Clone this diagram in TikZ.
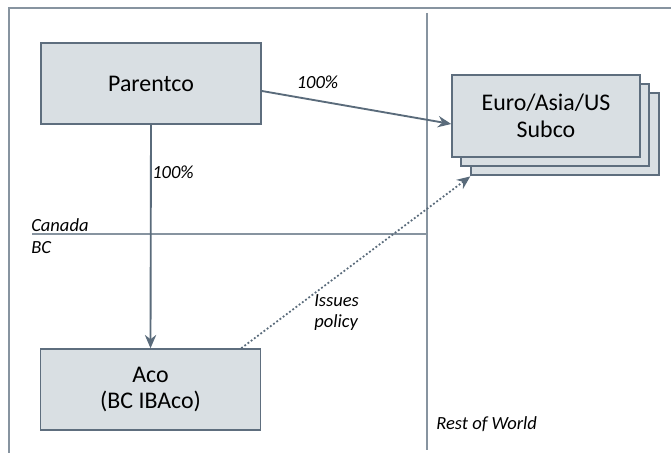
\documentclass[tikz,border=0pt]{standalone}
\usepackage{fontspec}
\setmainfont{Carlito}
\usetikzlibrary{arrows.meta,shadows}

\definecolor{boxfill}{HTML}{D9DFE3}
\definecolor{boxline}{HTML}{5E6E7E}
\definecolor{frameline}{HTML}{8794A0}
\definecolor{linkcol}{HTML}{5A6B7B}

\begin{document}
\begin{tikzpicture}[
    x=0.75pt, y=-0.75pt,
    entity/.style={draw=boxline, fill=boxfill, line width=1.1pt, minimum width=165pt, minimum height=60.75pt, align=center, font=\fontsize{17.9}{19.5}\selectfont},
    stacked/.style={copy shadow={shadow xshift=14.25pt, shadow yshift=-13.5pt, fill=boxfill, draw=boxline}, copy shadow={shadow xshift=6.75pt, shadow yshift=-6.75pt, fill=boxfill, draw=boxline}},
    tag/.style={font=\fontsize{13.9}{15.75}\selectfont\itshape, inner sep=0pt, align=left},
    border/.style={draw=frameline, line width=1.1pt},
    link/.style={draw=linkcol, line width=1.4pt, -{Stealth[length=10pt,width=8.5pt]}}
]
\useasboundingbox (0,0) rectangle (671,453);

% Frame and region borders
\draw[border] (671,8) -- (9,8) -- (9,453);
\draw[border] (427,13) -- (427,450);
\draw[border] (32,234) -- (427,234);

% Entities
\node[entity] (parentco) at (151,83.5) {Parentco};
\node[entity] (aco) at (150.5,389.5) {Aco\\(BC IBAco)};
\node[entity, stacked, minimum width=141pt, minimum height=61.5pt, font=\fontsize{17.9}{20.5}\selectfont] (subco) at (546,116) {Euro/Asia/US\\Subco};
\coordinate (subcoback) at ([xshift=14.25pt, yshift=-14pt]subco.south west);

% Ownership and policy links
\draw[link] ([yshift=-5.6pt]parentco.east) -- ([yshift=-6pt]subco.west);
\draw[link] (parentco.south) -- (aco.north);
\draw[link, line width=1.3pt, dash pattern=on 1.4pt off 1.6pt] ([xshift=-15pt]aco.north east) -- (subcoback);

% Labels
\node[tag] (ownsub) at (317.5,82) {100\%};
\node[tag, anchor=west] (ownaco) at (152,172) {100\%};
\node[tag, anchor=west] (canada) at (31,225) {Canada};
\node[tag, anchor=west] (bc) at (31,248) {BC};
\node[tag, anchor=west] (issues) at (314,312.5) {Issues\\policy};
\node[tag, anchor=west] (row) at (436,424) {Rest of World};

\end{tikzpicture}
\end{document}
